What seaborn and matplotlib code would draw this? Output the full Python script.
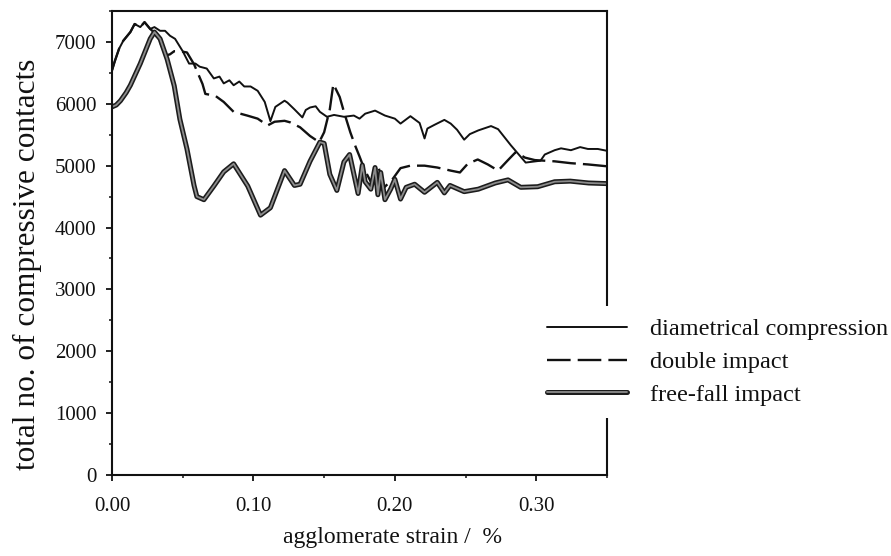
import matplotlib
matplotlib.use("Agg")
import matplotlib.pyplot as plt
import matplotlib.patheffects as pe
from matplotlib.ticker import MultipleLocator, FixedLocator, FixedFormatter
import seaborn as sns

# --- data -------------------------------------------------------------
# loading up to the peak, common to compression and double impact
rise_strain = [0.000, 0.002, 0.005, 0.008, 0.013, 0.016, 0.020, 0.023, 0.027]
rise_contacts = [6540, 6690, 6890, 7020, 7160, 7290, 7240, 7320, 7210]

dc_strain = rise_strain + [
    0.030, 0.034, 0.0375, 0.041, 0.0446, 0.050, 0.0545, 0.059, 0.062, 0.067,
    0.072, 0.076, 0.079, 0.083, 0.086, 0.090, 0.0935, 0.098, 0.103, 0.108,
    0.112, 0.1155, 0.122, 0.124, 0.129, 0.1346, 0.137, 0.140, 0.144, 0.147,
    0.152, 0.157, 0.164, 0.171, 0.175, 0.179, 0.186, 0.193, 0.200, 0.204,
    0.211, 0.2175, 0.221, 0.223, 0.228, 0.235, 0.2395, 0.244, 0.249, 0.253,
    0.259, 0.268, 0.273, 0.282, 0.2925, 0.303, 0.306, 0.313, 0.3175, 0.3245,
    0.331, 0.3365, 0.3435, 0.350]
dc_contacts = rise_contacts + [
    7240, 7180, 7180, 7100, 7050, 6850, 6650, 6650, 6600, 6570,
    6410, 6440, 6330, 6380, 6300, 6360, 6280, 6280, 6210, 6030,
    5720, 5950, 6050, 6020, 5910, 5780, 5900, 5940, 5960, 5870,
    5790, 5820, 5790, 5810, 5760, 5840, 5890, 5810, 5760, 5680,
    5800, 5690, 5440, 5600, 5660, 5740, 5680, 5580, 5420, 5510,
    5570, 5640, 5590, 5330, 5050, 5080, 5180, 5250, 5280, 5250,
    5300, 5270, 5270, 5240]

di_strain = rise_strain + [
    0.030, 0.034, 0.038, 0.041, 0.044, 0.048, 0.053, 0.058, 0.064, 0.066,
    0.073, 0.079, 0.086, 0.0956, 0.103, 0.110, 0.115, 0.122, 0.126, 0.133,
    0.140, 0.1465, 0.150, 0.154, 0.1565, 0.161, 0.164, 0.1685, 0.172, 0.175,
    0.1785, 0.183, 0.188, 0.1925, 0.198, 0.204, 0.211, 0.221, 0.230, 0.2395,
    0.246, 0.2515, 0.2586, 0.2657, 0.273, 0.280, 0.2855, 0.292, 0.299, 0.313,
    0.3245, 0.3365, 0.350]
di_contacts = rise_contacts + [
    7150, 7000, 6780, 6800, 6850, 6850, 6830, 6640, 6320, 6160,
    6130, 6030, 5870, 5810, 5760, 5650, 5710, 5725, 5700, 5620,
    5480, 5380, 5540, 5910, 6320, 6110, 5870, 5540, 5320, 5150,
    4940, 4740, 5010, 4650, 4770, 4960, 5000, 5000, 4970, 4920,
    4890, 5030, 5100, 5020, 4920, 5090, 5220, 5130, 5090, 5070,
    5040, 5020, 4990]

ff_strain = [
    0.000, 0.003, 0.006, 0.010, 0.013, 0.020, 0.027, 0.030, 0.034, 0.039,
    0.044, 0.048, 0.053, 0.058, 0.060, 0.065, 0.072, 0.079, 0.086, 0.096,
    0.105, 0.112, 0.122, 0.129, 0.133, 0.140, 0.147, 0.150, 0.154, 0.159,
    0.164, 0.168, 0.174, 0.177, 0.179, 0.183, 0.186, 0.188, 0.190, 0.193,
    0.197, 0.200, 0.204, 0.208, 0.214, 0.221, 0.230, 0.235, 0.239, 0.249,
    0.259, 0.271, 0.280, 0.289, 0.301, 0.313, 0.324, 0.337, 0.350]
ff_contacts = [
    5950, 5980, 6050, 6180, 6300, 6650, 7050, 7160, 7050, 6720,
    6290, 5750, 5270, 4680, 4500, 4450, 4670, 4900, 5030, 4670,
    4200, 4320, 4920, 4680, 4700, 5070, 5380, 5360, 4860, 4600,
    5060, 5180, 4550, 5010, 4740, 4620, 4970, 4530, 4890, 4450,
    4620, 4780, 4460, 4650, 4700, 4570, 4730, 4560, 4680, 4580,
    4620, 4720, 4770, 4650, 4660, 4740, 4750, 4720, 4710]

series_labels = ["diametrical compression", "double impact", "free-fall impact"]
x_ticks = [0.0, 0.1, 0.2, 0.3]
x_tick_labels = ["0.00", "0.10", "0.20", "0.30"]
y_ticks = [0, 1000, 2000, 3000, 4000, 5000, 6000, 7000]

# --- style ------------------------------------------------------------
sns.set_style("ticks")
plt.rcParams["font.family"] = ["Liberation Serif", "DejaVu Serif"]

fig = plt.figure(figsize=(8.91, 5.56), dpi=100)
ax = fig.add_axes([112 / 891, 1 - 475 / 556, 495 / 891, 464 / 556])

ink = "#111111"
sns.lineplot(x=dc_strain, y=dc_contacts, ax=ax, color=ink, linewidth=1.4,
             label=series_labels[0], estimator=None, sort=False)
sns.lineplot(x=di_strain, y=di_contacts, ax=ax, color=ink, linewidth=1.7,
             dashes=(10, 3), label=series_labels[1], estimator=None, sort=False)
sns.lineplot(x=ff_strain, y=ff_contacts, ax=ax, color="#8c8c8c", linewidth=1.3,
             label=series_labels[2], estimator=None, sort=False,
             path_effects=[pe.Stroke(linewidth=3.6, foreground="#1c1c1c"),
                           pe.Normal()])

ax.set_xlim(0, 0.35)
ax.set_ylim(0, 7500)

ax.xaxis.set_major_locator(FixedLocator(x_ticks))
ax.xaxis.set_major_formatter(FixedFormatter(x_tick_labels))
ax.xaxis.set_minor_locator(MultipleLocator(0.05))
ax.yaxis.set_major_locator(FixedLocator(y_ticks))
ax.yaxis.set_minor_locator(MultipleLocator(500))

ax.tick_params(axis="both", which="major", direction="out", length=4.2,
               width=1.3, colors=ink, labelsize=15, labelcolor=ink)
ax.tick_params(axis="both", which="minor", direction="out", length=2.5,
               width=1.1, colors=ink)
ax.tick_params(axis="x", which="major", pad=11.5)
ax.tick_params(axis="y", which="major", pad=7)

for side in ["left", "right", "top", "bottom"]:
    ax.spines[side].set_visible(True)
    ax.spines[side].set_linewidth(1.5)
    ax.spines[side].set_color(ink)

ax.set_xlabel("agglomerate strain /  %", fontsize=17, color=ink)
ax.xaxis.set_label_coords(0.566, -0.112)
ax.xaxis.label.set_verticalalignment("top")
ax.set_ylabel("total no. of compressive contacts", fontsize=22.5, color=ink)
ax.yaxis.set_label_coords(-0.141, 0.453)

leg = ax.legend(loc="center left", bbox_to_anchor=(535 / 891, 1 - 362 / 556),
                bbox_transform=fig.transFigure, frameon=True, fancybox=False,
                fontsize=17.5, handlelength=3.3, handletextpad=0.95,
                labelspacing=0.45, borderpad=0.5, borderaxespad=0)
leg.get_frame().set_facecolor("white")
leg.get_frame().set_edgecolor("none")
leg.get_frame().set_alpha(1.0)
for txt in leg.get_texts():
    txt.set_color(ink)

fig.savefig("out.png", dpi=100)
